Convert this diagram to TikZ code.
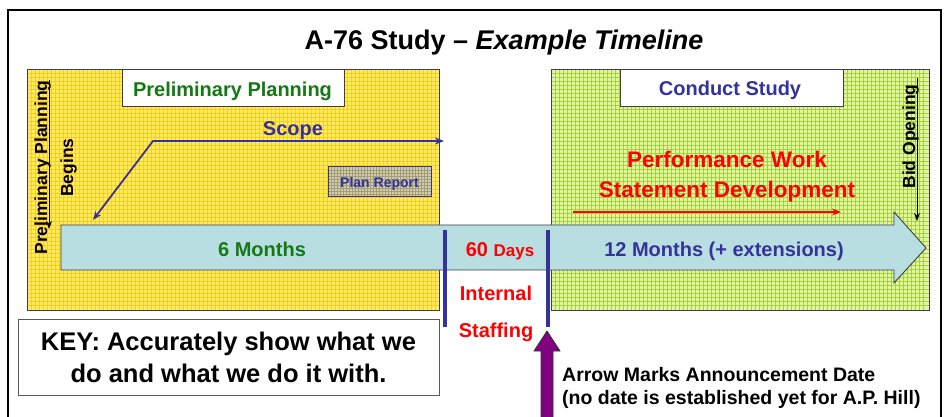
\documentclass[tikz,border=0pt]{standalone}
\usepackage{fontspec}
\setmainfont{Liberation Sans}
\usetikzlibrary{arrows.meta}
\definecolor{ttlgreen}{RGB}{20,120,20}
\definecolor{ttlblue}{RGB}{51,51,153}
\definecolor{ttlred}{RGB}{255,0,0}
\definecolor{yellbg}{RGB}{255,234,120}
\definecolor{yellline}{RGB}{255,206,10}
\definecolor{grnbg}{RGB}{226,243,176}
\definecolor{grnline}{RGB}{165,212,50}
\definecolor{tealfill}{RGB}{184,222,226}
\definecolor{plum}{RGB}{128,0,128}
\definecolor{repbg}{RGB}{214,206,160}
\definecolor{repline}{RGB}{160,156,130}
\begin{document}
\begin{tikzpicture}[x=1pt,y=-1pt,
  txt/.style={inner sep=0pt,font=\bfseries\fontsize{#1}{#1}\selectfont},
  panelborder/.style={draw=black!75,line width=0.9pt},
  hbox/.style={draw=black!75,fill=white,line width=0.9pt,inner sep=0pt,anchor=north west},
  bluebar/.style={draw=ttlblue,line width=3.5pt},
  scopeline/.style={draw=ttlblue,line width=1.8pt,{Stealth[length=9pt,width=7pt]}-{Stealth[length=9pt,width=7pt]}},
  blackarrow/.style={draw=black,line width=0.9pt,-{Stealth[length=8pt,width=6pt]}},
]
\useasboundingbox (0,0) rectangle (946,417);
% outer frame
\draw[line width=1.5pt] (8,425) -- (8,10) -- (941,10) -- (941,425);
% yellow panel
\fill[yellbg] (27,69) rectangle (439,310);
\foreach \x in {31,35,...,435} \draw[yellline,line width=0.9pt] (\x,69) -- (\x,310);
\foreach \y in {73,77,...,306} \draw[yellline,line width=0.9pt] (27,\y) -- (439,\y);
\draw[panelborder] (27,69) rectangle (439,310);
% green panel
\fill[grnbg] (551,69) rectangle (929,310);
\foreach \x in {555,559,...,925} \draw[grnline,line width=0.9pt] (\x,69) -- (\x,310);
\foreach \y in {73,77,...,306} \draw[grnline,line width=0.9pt] (551,\y) -- (929,\y);
\draw[panelborder] (551,69) rectangle (929,310);
% header boxes
\node[hbox,minimum width=222pt,minimum height=37pt] (ppbox) at (122,69) {};
\node[txt=20,anchor=base,text=ttlgreen] (pptext) at (232.5,97) {Preliminary Planning};
\node[hbox,minimum width=223pt,minimum height=37pt] (csbox) at (620,69) {};
\node[txt=20,anchor=base,text=ttlblue] (cstext) at (730,96) {Conduct Study};
% plan report
\fill[repbg] (328,167) rectangle (431,197);
\foreach \x in {331,334,...,429} \draw[repline,line width=0.5pt] (\x,167) -- (\x,197);
\foreach \y in {170,173,...,195} \draw[repline,line width=0.5pt] (328,\y) -- (431,\y);
\draw[ttlblue,line width=1pt] (328,167) rectangle (431,197);
\node[txt=14,anchor=base,text=ttlblue] (planrep) at (379.5,187.5) {Plan Report};
% title
\node[txt=27,anchor=base] (title) at (504,50) {A-76 Study – \textit{Example Timeline}};
% scope
\coordinate (scA) at (93,220);
\coordinate (scB) at (153,141);
\coordinate (scC) at (444,141);
\draw[scopeline] (scA) -- (scB) -- (scC);
\node[txt=20,anchor=base,text=ttlblue] (scope) at (293,135.5) {Scope};
% vertical labels
\node[txt=17.5,anchor=base,rotate=90] (ppbegin) at (47,167.5) {Preliminary Planning};
\node[txt=17.5,anchor=base,rotate=90] (begins) at (73,167.5) {Begins};
\coordinate (ppA) at (49,80);
\coordinate (ppB) at (49,229);
\draw[blackarrow] (ppA) -- (ppB);
\node[txt=17.5,anchor=base,rotate=90] (bidopen) at (915,136.5) {Bid Opening};
\coordinate (bdA) at (917,78);
\coordinate (bdB) at (917,221);
\draw[blackarrow] (bdA) -- (bdB);
% red arrow
\coordinate (rdA) at (573,212);
\coordinate (rdB) at (841,212);
\draw[ttlred,line width=1.2pt,-{Stealth[length=9pt,width=7pt]}] (rdA) -- (rdB);
\node[txt=22.5,anchor=base,text=ttlred] (pws1) at (727,168) {Performance Work};
\node[txt=22.5,anchor=base,text=ttlred] (pws2) at (727,197) {Statement Development};
% big arrow
\draw[fill=tealfill,draw=black!75,line width=0.9pt] (61,225) -- (894,225) -- (894,212) -- (926,248) -- (894,283) -- (894,270) -- (61,270) -- cycle;
\node[txt=20,anchor=base,text=ttlgreen] (six) at (262,256) {6 Months};
\node[anchor=base,inner sep=0pt,text=ttlred,font=\bfseries] (sixty) at (500,256) {\fontsize{20}{20}\selectfont 60 \fontsize{17}{17}\selectfont Days};
\node[txt=20,anchor=base,text=ttlblue] (twelve) at (724,257) {12 Months (+ extensions)};
% blue bars
\coordinate (b1A) at (445,230);
\coordinate (b1B) at (445,327);
\coordinate (b2A) at (548,230);
\coordinate (b2B) at (548,327);
\draw[bluebar] (b1A) -- (b1B);
\draw[bluebar] (b2A) -- (b2B);
\node[txt=20,anchor=base,text=ttlred] (internal) at (496,300) {Internal};
\node[txt=20,anchor=base,text=ttlred] (staffing) at (496,337) {Staffing};
% key box
\node[hbox,draw=black!65,minimum width=421pt,minimum height=76pt] (keybox) at (18,319) {};
\node[txt=25.5,anchor=base] (key1) at (228.5,350) {KEY: Accurately show what we};
\node[txt=25.5,anchor=base] (key2) at (228.5,382) {do and what we do it with.};
% purple arrow
\draw[fill=plum,draw=black!80,line width=0.8pt] (541,425) -- (541,351) -- (534,351) -- (547,331) -- (560,351) -- (553,351) -- (553,425) -- cycle;
\node[txt=19.5,anchor=base west] (ann1) at (562,381) {Arrow Marks Announcement Date};
\node[txt=19.5,anchor=base west] (ann2) at (562,404) {(no date is established yet for A.P. Hill)};
\end{tikzpicture}
\end{document}
